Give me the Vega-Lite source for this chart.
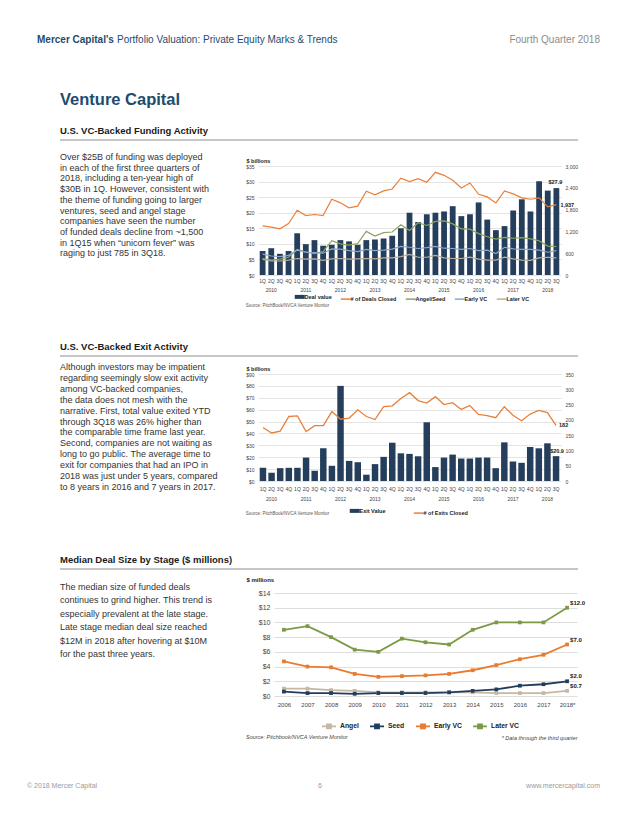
{
  "$schema": "https://vega.github.io/schema/vega-lite/v6.json",
  "padding": {"left": 27, "top": 30, "right": 0, "bottom": 0},
  "background": "white",
  "bounds": "flush",
  "spacing": 0,
  "resolve": {"scale": {"color": "independent"}, "legend": {"color": "independent"}},
  "datasets": {
    "funding": [
      {"period": "2010 1Q", "value": 7.7, "deals": 1354, "angel_seed": 454, "early_vc": 574, "later_vc": 429},
      {"period": "2010 2Q", "value": 8.6, "deals": 1318, "angel_seed": 411, "early_vc": 523, "later_vc": 386},
      {"period": "2010 3Q", "value": 6.8, "deals": 1271, "angel_seed": 437, "early_vc": 506, "later_vc": 386},
      {"period": "2010 4Q", "value": 7.7, "deals": 1417, "angel_seed": 489, "early_vc": 540, "later_vc": 411},
      {"period": "2011 1Q", "value": 13.4, "deals": 1783, "angel_seed": 703, "early_vc": 686, "later_vc": 454},
      {"period": "2011 2Q", "value": 9.9, "deals": 1637, "angel_seed": 634, "early_vc": 626, "later_vc": 437},
      {"period": "2011 3Q", "value": 11.2, "deals": 1665, "angel_seed": 591, "early_vc": 617, "later_vc": 446},
      {"period": "2011 4Q", "value": 9.4, "deals": 1637, "angel_seed": 643, "early_vc": 600, "later_vc": 403},
      {"period": "2012 1Q", "value": 9.7, "deals": 2085, "angel_seed": 943, "early_vc": 720, "later_vc": 446},
      {"period": "2012 2Q", "value": 11.2, "deals": 1986, "angel_seed": 857, "early_vc": 711, "later_vc": 454},
      {"period": "2012 3Q", "value": 10.8, "deals": 1849, "angel_seed": 823, "early_vc": 669, "later_vc": 437},
      {"period": "2012 4Q", "value": 9.7, "deals": 1895, "angel_seed": 866, "early_vc": 643, "later_vc": 446},
      {"period": "2013 1Q", "value": 11.2, "deals": 2306, "angel_seed": 1200, "early_vc": 703, "later_vc": 454},
      {"period": "2013 2Q", "value": 11.4, "deals": 2205, "angel_seed": 1071, "early_vc": 669, "later_vc": 446},
      {"period": "2013 3Q", "value": 11.7, "deals": 2315, "angel_seed": 1166, "early_vc": 686, "later_vc": 471},
      {"period": "2013 4Q", "value": 12.6, "deals": 2368, "angel_seed": 1183, "early_vc": 711, "later_vc": 471},
      {"period": "2014 1Q", "value": 15.0, "deals": 2663, "angel_seed": 1380, "early_vc": 789, "later_vc": 506},
      {"period": "2014 2Q", "value": 20.0, "deals": 2571, "angel_seed": 1226, "early_vc": 763, "later_vc": 566},
      {"period": "2014 3Q", "value": 17.0, "deals": 2653, "angel_seed": 1440, "early_vc": 729, "later_vc": 489},
      {"period": "2014 4Q", "value": 19.5, "deals": 2553, "angel_seed": 1363, "early_vc": 754, "later_vc": 489},
      {"period": "2015 1Q", "value": 20.0, "deals": 2826, "angel_seed": 1474, "early_vc": 789, "later_vc": 540},
      {"period": "2015 2Q", "value": 20.4, "deals": 2743, "angel_seed": 1491, "early_vc": 737, "later_vc": 471},
      {"period": "2015 3Q", "value": 22.1, "deals": 2607, "angel_seed": 1406, "early_vc": 729, "later_vc": 454},
      {"period": "2015 4Q", "value": 18.9, "deals": 2397, "angel_seed": 1268, "early_vc": 703, "later_vc": 454},
      {"period": "2016 1Q", "value": 19.5, "deals": 2534, "angel_seed": 1260, "early_vc": 729, "later_vc": 489},
      {"period": "2016 2Q", "value": 23.3, "deals": 2222, "angel_seed": 1140, "early_vc": 669, "later_vc": 437},
      {"period": "2016 3Q", "value": 17.8, "deals": 2149, "angel_seed": 1054, "early_vc": 686, "later_vc": 411},
      {"period": "2016 4Q", "value": 14.4, "deals": 1985, "angel_seed": 986, "early_vc": 591, "later_vc": 411},
      {"period": "2017 1Q", "value": 15.7, "deals": 2315, "angel_seed": 1037, "early_vc": 763, "later_vc": 489},
      {"period": "2017 2Q", "value": 20.7, "deals": 2232, "angel_seed": 1011, "early_vc": 720, "later_vc": 446},
      {"period": "2017 3Q", "value": 24.3, "deals": 2122, "angel_seed": 1029, "early_vc": 703, "later_vc": 411},
      {"period": "2017 4Q", "value": 20.4, "deals": 2085, "angel_seed": 994, "early_vc": 703, "later_vc": 403},
      {"period": "2018 1Q", "value": 30.1, "deals": 2122, "angel_seed": 943, "early_vc": 686, "later_vc": 471},
      {"period": "2018 2Q", "value": 27.1, "deals": 1876, "angel_seed": 797, "early_vc": 626, "later_vc": 489},
      {"period": "2018 3Q", "value": 27.9, "deals": 1937, "angel_seed": 785, "early_vc": 669, "later_vc": 471}
    ],
    "exits": [
      {"period": "2010 1Q", "value": 11.1, "exits": 175},
      {"period": "2010 2Q", "value": 6.9, "exits": 157},
      {"period": "2010 3Q", "value": 10.8, "exits": 163},
      {"period": "2010 4Q", "value": 11.1, "exits": 211},
      {"period": "2011 1Q", "value": 11.1, "exits": 213},
      {"period": "2011 2Q", "value": 19.7, "exits": 162},
      {"period": "2011 3Q", "value": 8.6, "exits": 181},
      {"period": "2011 4Q", "value": 27.5, "exits": 181},
      {"period": "2012 1Q", "value": 12.8, "exits": 227},
      {"period": "2012 2Q", "value": 80.0, "exits": 202},
      {"period": "2012 3Q", "value": 16.9, "exits": 206},
      {"period": "2012 4Q", "value": 15.8, "exits": 233},
      {"period": "2013 1Q", "value": 5.3, "exits": 211},
      {"period": "2013 2Q", "value": 14.2, "exits": 201},
      {"period": "2013 3Q", "value": 20.3, "exits": 243},
      {"period": "2013 4Q", "value": 32.2, "exits": 246},
      {"period": "2014 1Q", "value": 23.3, "exits": 270},
      {"period": "2014 2Q", "value": 22.8, "exits": 289},
      {"period": "2014 3Q", "value": 20.8, "exits": 263},
      {"period": "2014 4Q", "value": 49.4, "exits": 255},
      {"period": "2015 1Q", "value": 11.7, "exits": 276},
      {"period": "2015 2Q", "value": 19.7, "exits": 250},
      {"period": "2015 3Q", "value": 22.2, "exits": 256},
      {"period": "2015 4Q", "value": 18.9, "exits": 234},
      {"period": "2016 1Q", "value": 18.9, "exits": 247},
      {"period": "2016 2Q", "value": 19.7, "exits": 218},
      {"period": "2016 3Q", "value": 19.7, "exits": 214},
      {"period": "2016 4Q", "value": 10.8, "exits": 207},
      {"period": "2017 1Q", "value": 32.5, "exits": 243},
      {"period": "2017 2Q", "value": 16.4, "exits": 215},
      {"period": "2017 3Q", "value": 15.3, "exits": 197},
      {"period": "2017 4Q", "value": 28.6, "exits": 219},
      {"period": "2018 1Q", "value": 27.5, "exits": 231},
      {"period": "2018 2Q", "value": 31.7, "exits": 224},
      {"period": "2018 3Q", "value": 20.9, "exits": 182}
    ],
    "median": [
      {"year": "2006", "angel": 1.0, "seed": 0.6, "early": 4.7, "later": 9.0},
      {"year": "2007", "angel": 1.0, "seed": 0.4, "early": 4.0, "later": 9.5},
      {"year": "2008", "angel": 0.8, "seed": 0.4, "early": 3.9, "later": 8.0},
      {"year": "2009", "angel": 0.7, "seed": 0.3, "early": 3.0, "later": 6.3},
      {"year": "2010", "angel": 0.5, "seed": 0.4, "early": 2.6, "later": 6.0},
      {"year": "2011", "angel": 0.5, "seed": 0.4, "early": 2.7, "later": 7.8},
      {"year": "2012", "angel": 0.5, "seed": 0.4, "early": 2.8, "later": 7.3},
      {"year": "2013", "angel": 0.5, "seed": 0.5, "early": 3.0, "later": 7.0},
      {"year": "2014", "angel": 0.5, "seed": 0.7, "early": 3.5, "later": 9.0},
      {"year": "2015", "angel": 0.4, "seed": 0.9, "early": 4.2, "later": 10.0},
      {"year": "2016", "angel": 0.4, "seed": 1.4, "early": 5.0, "later": 10.0},
      {"year": "2017", "angel": 0.4, "seed": 1.6, "early": 5.6, "later": 10.0},
      {"year": "2018", "angel": 0.7, "seed": 2.0, "early": 7.0, "later": 12.0}
    ]
  },
  "vconcat": [
    {
      "width": 540, "height": 20,
      "data": {"values": [{"brand": "Mercer Capital's", "publication": "Portfolio Valuation: Private Equity Marks & Trends", "issue": "Fourth Quarter 2018"}]},
      "layer": [
        {"mark": {"type": "text", "align": "left", "baseline": "middle", "fontSize": 10, "fontWeight": "bold", "color": "#1f4b6e", "dx": -23},
         "encoding": {"x": {"datum": 0, "type": "quantitative", "scale": {"domain": [0, 1]}, "axis": null}, "text": {"field": "brand"}}},
        {"mark": {"type": "text", "align": "left", "baseline": "middle", "fontSize": 10, "color": "#1f4b6e", "dx": 57},
         "encoding": {"x": {"datum": 0, "type": "quantitative", "scale": {"domain": [0, 1]}, "axis": null}, "text": {"field": "publication"}}},
        {"mark": {"type": "text", "align": "right", "baseline": "middle", "fontSize": 10, "color": "#8c8c8c"},
         "encoding": {"x": {"datum": 1, "type": "quantitative", "scale": {"domain": [0, 1]}, "axis": null}, "text": {"field": "issue"}}}
      ]
    },
    {"width": 1, "height": 38, "data": {"values": []}, "mark": "point"},
    {
      "width": 540, "height": 24,
      "data": {"values": [{"title": "Venture Capital"}]},
      "mark": {"type": "text", "align": "left", "baseline": "middle", "fontSize": 16.5, "fontWeight": "bold", "color": "#1f4b6e"},
      "encoding": {"x": {"datum": 0, "type": "quantitative", "scale": {"domain": [0, 1]}, "axis": null}, "text": {"field": "title"}}
    },
    {"width": 1, "height": 10, "data": {"values": []}, "mark": "point"},
    {
      "width": 518, "height": 18,
      "data": {"values": [{"heading": "U.S. VC-Backed Funding Activity"}]},
      "layer": [
        {"mark": {"type": "text", "align": "left", "baseline": "middle", "fontSize": 9.5, "fontWeight": "bold", "color": "#1a1a1a"},
         "encoding": {"x": {"datum": 0, "type": "quantitative", "scale": {"domain": [0, 1]}, "axis": null}, "text": {"field": "heading"}}},
        {"mark": {"type": "rule", "color": "#8c8c8c", "strokeWidth": 1},
         "encoding": {"y": {"datum": 0, "type": "quantitative", "scale": {"domain": [0, 1]}, "axis": null}}}
      ]
    },
    {"width": 1, "height": 26, "data": {"values": []}, "mark": "point"},
    {
      "bounds": "flush",
      "spacing": 36,
      "resolve": {"scale": {"color": "independent"}, "legend": {"color": "independent"}},
      "hconcat": [
        {
          "width": 162, "height": 96.3,
          "data": {"values": [
            {"line": 1, "text": "Over $25B of funding was deployed"},
            {"line": 2, "text": "in each of the first three quarters of"},
            {"line": 3, "text": "2018, including a ten-year high of"},
            {"line": 4, "text": "$30B in 1Q. However, consistent with"},
            {"line": 5, "text": "the theme of funding going to larger"},
            {"line": 6, "text": "ventures, seed and angel stage"},
            {"line": 7, "text": "companies have seen the number"},
            {"line": 8, "text": "of funded deals decline from ~1,500"},
            {"line": 9, "text": "in 1Q15 when “unicorn fever” was"},
            {"line": 10, "text": "raging to just 785 in 3Q18."}
          ]},
          "mark": {"type": "text", "align": "left", "baseline": "middle", "fontSize": 9, "color": "#333333", "dy": -9},
          "encoding": {
            "x": {"datum": 0, "type": "quantitative", "scale": {"domain": [0, 1]}, "axis": null},
            "y": {"field": "line", "type": "ordinal", "scale": {"type": "point", "padding": 0}, "axis": null},
            "text": {"field": "text"}
          }
        },
        {
          "width": 303, "height": 109,
          "data": {"name": "funding"},
          "title": {"text": "Source: PitchBook/NVCA Venture Monitor", "orient": "bottom", "anchor": "start", "frame": "bounds", "fontSize": 4.5, "fontWeight": "normal", "color": "#555555", "offset": -2},
          "layer": [
            {
              "mark": {"type": "bar"},
              "encoding": {
                "x": {"field": "period", "type": "ordinal", "title": null,
                  "scale": {"paddingInner": 0.33, "paddingOuter": 0.2},
                  "axis": {"labelExpr": "slice(datum.value, 5) == '2Q' ? [slice(datum.value, 5), (slice(datum.value, 0, 4) == '2018' ? '' : '\u00a0\u00a0\u00a0\u00a0\u00a0') + slice(datum.value, 0, 4)] : [slice(datum.value, 5), '']",
                    "labelFontSize": 5, "labelColor": "#444444", "ticks": false, "domain": false, "labelPadding": 3, "labelAngle": 0, "labelOverlap": false, "labelLineHeight": 9, "labelBaseline": "top", "grid": false}},
                "y": {"field": "value", "type": "quantitative", "scale": {"domain": [0, 35]},
                  "axis": {"values": [0, 5, 10, 15, 20, 25, 30, 35], "labelExpr": "'$' + datum.value", "labelFontSize": 5, "labelColor": "#444444", "labelOverlap": false, "grid": true, "gridColor": "#d9d9d9", "gridWidth": 0.7, "domain": false, "ticks": false, "labelPadding": 4,
                    "title": "$ billions", "titleAngle": 0, "titleAlign": "left", "titleBaseline": "bottom", "titleX": -12, "titleY": -3, "titleFontSize": 5.5, "titleFontWeight": "bold", "titleColor": "#222222"}},
                "color": {"datum": "Deal value", "type": "nominal", "title": null,
                  "scale": {"domain": ["Deal value", "deals", "angel_seed", "early_vc", "later_vc"], "range": ["#243e5b", "#e8803c", "#8ea35b", "#8aa7cb", "#bdae9e"]},
                  "legend": {"orient": "none", "legendX": 39, "legendY": 128, "direction": "horizontal", "title": null,
                    "symbolType": "stroke", "symbolSize": 100, "labelFontSize": 5.5, "labelFontWeight": "bold", "labelColor": "#222222", "columnPadding": 5, "labelOffset": 2,
                    "labelExpr": "datum.label == 'deals' ? '# of Deals Closed' : datum.label == 'angel_seed' ? 'Angel/Seed' : datum.label == 'early_vc' ? 'Early VC' : datum.label == 'later_vc' ? 'Later VC' : datum.label",
                    "encode": {"symbols": {"update": {"stroke": {"scale": "color", "field": "value"}, "fill": {"value": "transparent"}, "strokeWidth": {"signal": "datum.value === 'Deal value' ? 4 : 1.5"}}}}}}
              }
            },
            {
              "transform": [{"filter": "datum.period == '2018 3Q'"}],
              "mark": {"type": "text", "fontSize": 5.5, "fontWeight": "bold", "baseline": "bottom", "dy": -3, "dx": -1, "color": "#222222"},
              "encoding": {
                "x": {"field": "period", "type": "ordinal", "title": null},
                "y": {"field": "value", "type": "quantitative", "scale": {"domain": [0, 35]}, "axis": null},
                "text": {"field": "value", "format": "$.1f"}
              }
            },
            {
              "transform": [{"fold": ["deals", "angel_seed", "early_vc", "later_vc"], "as": ["series", "count"]}],
              "mark": {"type": "line", "strokeWidth": 1.2},
              "encoding": {
                "x": {"field": "period", "type": "ordinal", "title": null},
                "y": {"field": "count", "type": "quantitative", "scale": {"domain": [0, 3000]},
                  "axis": {"orient": "right", "values": [0, 600, 1200, 1800, 2400, 3000], "labelExpr": "format(datum.value, ',')", "labelFontSize": 5, "labelColor": "#444444", "labelOverlap": false, "grid": false, "domain": false, "ticks": false, "labelPadding": 4, "title": null}},
                "color": {"field": "series", "type": "nominal", "title": null}
              }
            },
            {
              "transform": [{"filter": "datum.period == '2018 3Q'"}],
              "mark": {"type": "text", "fontSize": 5.5, "fontWeight": "bold", "align": "left", "baseline": "middle", "dx": 4, "color": "#222222"},
              "encoding": {
                "x": {"field": "period", "type": "ordinal", "title": null},
                "y": {"field": "deals", "type": "quantitative", "scale": {"domain": [0, 3000]}, "axis": null},
                "text": {"field": "deals", "format": ","}
              }
            }
          ],
          "resolve": {"scale": {"y": "independent"}}
        }
      ]
    },
    {"width": 1, "height": 172, "data": {"values": []}, "mark": "point"},
    {
      "width": 518, "height": 18,
      "data": {"values": [{"heading": "U.S. VC-Backed Exit Activity"}]},
      "layer": [
        {"mark": {"type": "text", "align": "left", "baseline": "middle", "fontSize": 9.5, "fontWeight": "bold", "color": "#1a1a1a"},
         "encoding": {"x": {"datum": 0, "type": "quantitative", "scale": {"domain": [0, 1]}, "axis": null}, "text": {"field": "heading"}}},
        {"mark": {"type": "rule", "color": "#8c8c8c", "strokeWidth": 1},
         "encoding": {"y": {"datum": 0, "type": "quantitative", "scale": {"domain": [0, 1]}, "axis": null}}}
      ]
    },
    {"width": 1, "height": 18, "data": {"values": []}, "mark": "point"},
    {
      "bounds": "flush",
      "spacing": 36,
      "resolve": {"scale": {"color": "independent"}, "legend": {"color": "independent"}},
      "hconcat": [
        {
          "width": 162, "height": 120,
          "data": {"values": [
            {"line": 1, "text": "Although investors may be impatient"},
            {"line": 2, "text": "regarding seemingly slow exit activity"},
            {"line": 3, "text": "among VC-backed companies,"},
            {"line": 4, "text": "the data does not mesh with the"},
            {"line": 5, "text": "narrative. First, total value exited YTD"},
            {"line": 6, "text": "through 3Q18 was 26% higher than"},
            {"line": 7, "text": "the comparable time frame last year."},
            {"line": 8, "text": "Second, companies are not waiting as"},
            {"line": 9, "text": "long to go public. The average time to"},
            {"line": 10, "text": "exit for companies that had an IPO in"},
            {"line": 11, "text": "2018 was just under 5 years, compared"},
            {"line": 12, "text": "to 8 years in 2016 and 7 years in 2017."}
          ]},
          "mark": {"type": "text", "align": "left", "baseline": "middle", "fontSize": 9, "color": "#333333", "dy": -7},
          "encoding": {
            "x": {"datum": 0, "type": "quantitative", "scale": {"domain": [0, 1]}, "axis": null},
            "y": {"field": "line", "type": "ordinal", "scale": {"type": "point", "padding": 0}, "axis": null},
            "text": {"field": "text"}
          }
        },
        {
          "width": 303, "height": 107,
          "data": {"name": "exits"},
          "title": {"text": "Source: PitchBook/NVCA Venture Monitor", "orient": "bottom", "anchor": "start", "frame": "bounds", "fontSize": 4.5, "fontWeight": "normal", "color": "#555555", "offset": -8},
          "layer": [
            {
              "mark": {"type": "bar"},
              "encoding": {
                "x": {"field": "period", "type": "ordinal", "title": null,
                  "scale": {"paddingInner": 0.25, "paddingOuter": 0.2},
                  "axis": {"labelExpr": "slice(datum.value, 5) == '2Q' ? [slice(datum.value, 5), (slice(datum.value, 0, 4) == '2018' ? '' : '\u00a0\u00a0\u00a0\u00a0\u00a0') + slice(datum.value, 0, 4)] : [slice(datum.value, 5), '']",
                    "labelFontSize": 5, "labelColor": "#444444", "ticks": false, "domain": false, "labelPadding": 5, "labelAngle": 0, "labelOverlap": false, "labelLineHeight": 10, "labelBaseline": "top", "grid": false}},
                "y": {"field": "value", "type": "quantitative", "scale": {"domain": [0, 90]},
                  "axis": {"values": [0, 10, 20, 30, 40, 50, 60, 70, 80, 90], "labelExpr": "'$' + datum.value", "labelFontSize": 5, "labelColor": "#444444", "labelOverlap": false, "grid": true, "gridColor": "#d9d9d9", "gridWidth": 0.7, "domain": false, "ticks": false, "labelPadding": 4,
                    "title": "$ billions", "titleAngle": 0, "titleAlign": "left", "titleBaseline": "bottom", "titleX": -12, "titleY": -3, "titleFontSize": 5.5, "titleFontWeight": "bold", "titleColor": "#222222"}},
                "color": {"datum": "Exit Value", "type": "nominal", "title": null,
                  "scale": {"domain": ["Exit Value", "# of Exits Closed"], "range": ["#243e5b", "#e8803c"]},
                  "legend": {"orient": "none", "legendX": 94, "legendY": 134, "direction": "horizontal", "title": null,
                    "symbolType": "stroke", "symbolSize": 100, "labelFontSize": 5.5, "labelFontWeight": "bold", "labelColor": "#222222", "columnPadding": 24, "labelOffset": 2,
                    "encode": {"symbols": {"update": {"stroke": {"scale": "color", "field": "value"}, "fill": {"value": "transparent"}, "strokeWidth": {"signal": "datum.value === 'Exit Value' ? 4 : 1.5"}}}}}}
              }
            },
            {
              "transform": [{"filter": "datum.period == '2018 3Q'"}],
              "mark": {"type": "text", "fontSize": 5.5, "fontWeight": "bold", "baseline": "bottom", "dy": -2, "dx": 1, "color": "#222222"},
              "encoding": {
                "x": {"field": "period", "type": "ordinal", "title": null},
                "y": {"field": "value", "type": "quantitative", "scale": {"domain": [0, 90]}, "axis": null},
                "text": {"field": "value", "format": "$.1f"}
              }
            },
            {
              "mark": {"type": "line", "strokeWidth": 1.3},
              "encoding": {
                "x": {"field": "period", "type": "ordinal", "title": null},
                "y": {"field": "exits", "type": "quantitative", "scale": {"domain": [0, 350]},
                  "axis": {"orient": "right", "values": [0, 50, 100, 150, 200, 250, 300, 350], "labelFontSize": 5, "labelColor": "#444444", "labelOverlap": false, "grid": false, "domain": false, "ticks": false, "labelPadding": 4, "title": null}},
                "color": {"datum": "# of Exits Closed", "type": "nominal", "title": null}
              }
            },
            {
              "transform": [{"filter": "datum.period == '2018 3Q'"}],
              "mark": {"type": "text", "fontSize": 5.5, "fontWeight": "bold", "align": "left", "baseline": "middle", "dx": 3, "color": "#222222"},
              "encoding": {
                "x": {"field": "period", "type": "ordinal", "title": null},
                "y": {"field": "exits", "type": "quantitative", "scale": {"domain": [0, 350]}, "axis": null},
                "text": {"field": "exits"}
              }
            }
          ],
          "resolve": {"scale": {"y": "independent"}}
        }
      ]
    },
    {"width": 1, "height": 177, "data": {"values": []}, "mark": "point"},
    {
      "width": 518, "height": 18,
      "data": {"values": [{"heading": "Median Deal Size by Stage ($ millions)"}]},
      "layer": [
        {"mark": {"type": "text", "align": "left", "baseline": "middle", "fontSize": 9.5, "fontWeight": "bold", "color": "#1a1a1a"},
         "encoding": {"x": {"datum": 0, "type": "quantitative", "scale": {"domain": [0, 1]}, "axis": null}, "text": {"field": "heading"}}},
        {"mark": {"type": "rule", "color": "#8c8c8c", "strokeWidth": 1},
         "encoding": {"y": {"datum": 0, "type": "quantitative", "scale": {"domain": [0, 1]}, "axis": null}}}
      ]
    },
    {"width": 1, "height": 24, "data": {"values": []}, "mark": "point"},
    {
      "bounds": "flush",
      "spacing": 52,
      "resolve": {"scale": {"color": "independent"}, "legend": {"color": "independent"}},
      "hconcat": [
        {
          "width": 162, "height": 67,
          "data": {"values": [
            {"line": 1, "text": "The median size of funded deals"},
            {"line": 2, "text": "continues to grind higher. This trend is"},
            {"line": 3, "text": "especially prevalent at the late stage."},
            {"line": 4, "text": "Late stage median deal size reached"},
            {"line": 5, "text": "$12M in 2018 after hovering at $10M"},
            {"line": 6, "text": "for the past three years."}
          ]},
          "mark": {"type": "text", "align": "left", "baseline": "middle", "fontSize": 9, "color": "#333333", "dy": -6},
          "encoding": {
            "x": {"datum": 0, "type": "quantitative", "scale": {"domain": [0, 1]}, "axis": null},
            "y": {"field": "line", "type": "ordinal", "scale": {"type": "point", "padding": 0}, "axis": null},
            "text": {"field": "text"}
          }
        },
        {
          "width": 303, "height": 103,
          "data": {"name": "median"},
          "title": {"text": "Source: Pitchbook/NVCA Venture Monitor", "orient": "bottom", "anchor": "start", "frame": "bounds", "fontSize": 5.5, "fontStyle": "italic", "fontWeight": "normal", "color": "#444444", "offset": -6},
          "transform": [{"fold": ["angel", "seed", "early", "later"], "as": ["stage", "size"]}],
          "layer": [
            {
              "mark": {"type": "line", "strokeWidth": 1.8, "point": {"filled": true, "shape": "square", "size": 14}},
              "encoding": {
                "x": {"field": "year", "type": "ordinal", "scale": {"type": "point", "padding": 0.42},
                  "axis": {"labelExpr": "datum.value == '2018' ? '2018*' : datum.value", "labelFontSize": 6, "labelColor": "#444444", "ticks": false, "domain": false, "labelPadding": 5, "labelAngle": 0,
                    "title": "* Data through the third quarter", "titleAnchor": "end", "titleAlign": "right", "titleY": 41, "titleBaseline": "middle", "titleFontSize": 5.5, "titleFontStyle": "italic", "titleFontWeight": "normal", "titleColor": "#444444"}},
                "y": {"field": "size", "type": "quantitative", "scale": {"domain": [0, 14]},
                  "axis": {"values": [0, 2, 4, 6, 8, 10, 12, 14], "labelExpr": "'$' + datum.value", "labelFontSize": 7, "labelColor": "#444444", "labelOverlap": false, "grid": true, "gridColor": "#d0d0d0", "gridWidth": 0.7, "domain": false, "ticks": false, "labelPadding": 4,
                    "title": "$ millions", "titleAngle": 0, "titleAlign": "left", "titleBaseline": "bottom", "titleX": -28, "titleY": -11, "titleFontSize": 6, "titleFontWeight": "bold", "titleColor": "#222222"}},
                "color": {"field": "stage", "type": "nominal", "title": null,
                  "scale": {"domain": ["angel", "seed", "early", "later"], "range": ["#c6b7a3", "#213d5c", "#ea7a2f", "#7c9a45"]},
                  "legend": {"orient": "none", "legendX": 47, "legendY": 125, "direction": "horizontal", "title": null,
                    "symbolType": "M-1,0L1,0M-0.3,-0.3L0.3,-0.3L0.3,0.3L-0.3,0.3Z", "symbolSize": 196, "labelFontSize": 6.8, "labelFontWeight": "bold", "labelColor": "#222222", "columnPadding": 7, "labelOffset": 3,
                    "labelExpr": "datum.label == 'angel' ? 'Angel' : datum.label == 'seed' ? 'Seed' : datum.label == 'early' ? 'Early VC' : 'Later VC'",
                    "encode": {"symbols": {"update": {"stroke": {"scale": "color", "field": "value"}, "fill": {"scale": "color", "field": "value"}, "strokeWidth": {"value": 1.6}}}}}}
              }
            },
            {
              "transform": [{"filter": "datum.year == '2018'"}],
              "mark": {"type": "text", "fontSize": 6, "fontWeight": "bold", "align": "left", "baseline": "middle", "dx": 3, "dy": -5, "color": "#222222"},
              "encoding": {
                "x": {"field": "year", "type": "ordinal"},
                "y": {"field": "size", "type": "quantitative", "scale": {"domain": [0, 14]}, "axis": null},
                "text": {"field": "size", "format": "$.1f"}
              }
            }
          ],
          "resolve": {"scale": {"y": "independent"}}
        }
      ]
    },
    {"width": 1, "height": 184, "data": {"values": []}, "mark": "point"},
    {
      "width": 540, "height": 18,
      "data": {"values": [{"copyright": "© 2018 Mercer Capital", "page": "6", "site": "www.mercercapital.com"}]},
      "layer": [
        {"mark": {"type": "text", "align": "left", "baseline": "middle", "fontSize": 7, "color": "#9a9a9a", "dx": -33},
         "encoding": {"x": {"datum": 0, "type": "quantitative", "scale": {"domain": [0, 1]}, "axis": null}, "text": {"field": "copyright"}}},
        {"mark": {"type": "text", "align": "center", "baseline": "middle", "fontSize": 7, "color": "#9a9a9a", "dx": -10},
         "encoding": {"x": {"datum": 0.5, "type": "quantitative", "scale": {"domain": [0, 1]}, "axis": null}, "text": {"field": "page"}}},
        {"mark": {"type": "text", "align": "right", "baseline": "middle", "fontSize": 7, "color": "#9a9a9a"},
         "encoding": {"x": {"datum": 1, "type": "quantitative", "scale": {"domain": [0, 1]}, "axis": null}, "text": {"field": "site"}}}
      ]
    }
  ],
  "config": {
    "font": "Liberation Sans",
    "view": {"stroke": null},
    "concat": {"spacing": 0},
    "axis": {"labelOverlap": false}
  }
}
